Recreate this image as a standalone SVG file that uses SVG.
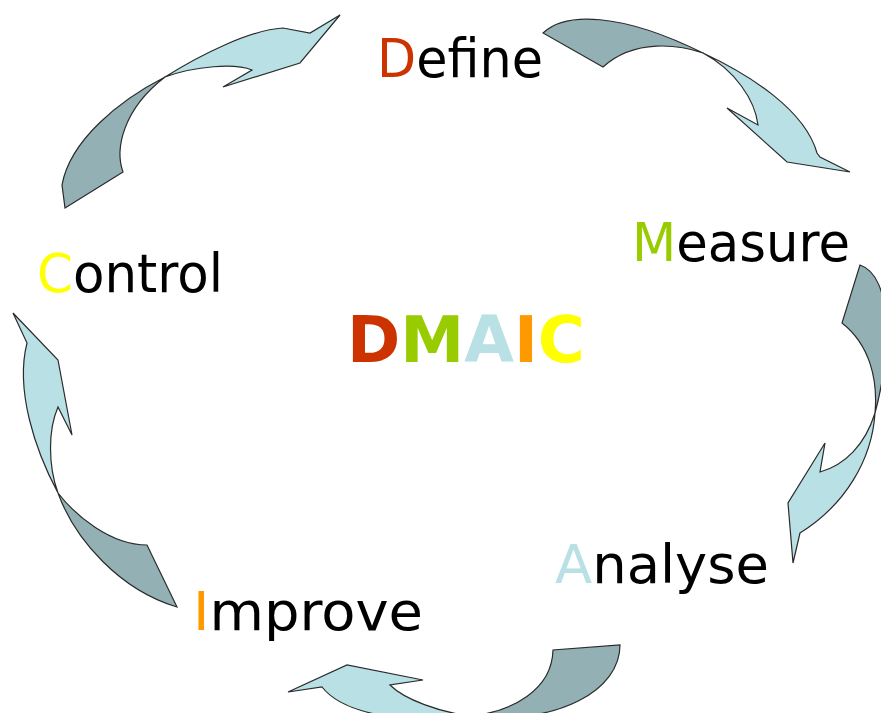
<svg xmlns="http://www.w3.org/2000/svg" width="881" height="713" viewBox="0 0 881 713">
<style>
.lt{fill:#b8e0e5;stroke:#2b2b2b;stroke-width:1.2;stroke-linejoin:miter}
.dk{fill:#93b1b5;stroke:#2b2b2b;stroke-width:1.2;stroke-linejoin:miter}
.lbl{font-family:"DejaVu Sans",Verdana,sans-serif;font-size:53px;fill:#000}
.big{font-family:"DejaVu Sans",Verdana,sans-serif;font-size:64px;font-weight:bold}
</style>
<rect width="881" height="713" fill="#fff"/>
<g id="connectors">
  <g id="arrow-control-define">
    <path class="dk" d="M65,208 L123,172 C115,150 122,110 165,77 C120,100 70,140 62,185 Z"/>
    <path class="lt" d="M165,77 C200,55 250,30 283,28 L310,33 L340,15 L300,63 L223,87 L252,70 C235,63 195,66 165,77 Z"/>
  </g>
  <g id="arrow-define-measure">
    <path class="dk" d="M543,33 C565,12 620,12 703,53 C680,45 635,38 603,67 Z"/>
    <path class="lt" d="M703,53 C750,75 805,110 817,153 L820,157 L850,172 L787,162 L727,108 L758,125 C755,100 735,70 703,53 Z"/>
  </g>
  <g id="arrow-measure-analyse">
    <path class="dk" d="M860,265 C875,270 886,290 886,330 C886,370 880,395 875,413 C878,380 870,345 842,323 Z"/>
    <path class="lt" d="M875,413 C872,460 845,505 800,533 L793,563 L788,503 L825,443 L820,472 C845,465 865,445 875,413 Z"/>
  </g>
  <g id="arrow-analyse-improve">
    <path class="dk" d="M470,716 C512,712 552,690 553,650 L620,645 C620,690 560,725 470,716 Z"/>
    <path class="lt" d="M470,716 C440,712 405,700 390,685 L423,680 L347,665 L288,692 L322,687 C340,710 390,725 470,716 Z"/>
  </g>
  <g id="arrow-improve-control">
    <path class="dk" d="M58,493 C75,540 120,590 177,607 L147,545 C110,545 75,515 58,493 Z"/>
    <path class="lt" d="M58,493 C35,450 15,390 27,343 L13,313 L58,360 L72,435 L58,407 C48,430 48,465 58,493 Z"/>
  </g>
</g>
<g id="define"><text class="lbl" x="377" y="77" textLength="166" lengthAdjust="spacingAndGlyphs"><tspan fill="#cc3300">D</tspan>efine</text></g>
<g id="measure"><text class="lbl" x="632" y="261" textLength="218" lengthAdjust="spacingAndGlyphs"><tspan fill="#99cc00">M</tspan>easure</text></g>
<g id="analyse"><text class="lbl" x="555" y="583" textLength="214" lengthAdjust="spacingAndGlyphs"><tspan fill="#b8e0e5">A</tspan>nalyse</text></g>
<g id="improve"><text class="lbl" x="193" y="630" textLength="230" lengthAdjust="spacingAndGlyphs"><tspan fill="#ff9900">I</tspan>mprove</text></g>
<g id="control"><text class="lbl" x="37" y="292" textLength="186" lengthAdjust="spacingAndGlyphs"><tspan fill="#ffff00">C</tspan>ontrol</text></g>
<g id="dmaic"><text class="big" x="347" y="362" textLength="238" lengthAdjust="spacingAndGlyphs"><tspan fill="#cc3300">D</tspan><tspan fill="#99cc00">M</tspan><tspan fill="#b8e0e5">A</tspan><tspan fill="#ff9900">I</tspan><tspan fill="#ffff00">C</tspan></text></g>
</svg>
